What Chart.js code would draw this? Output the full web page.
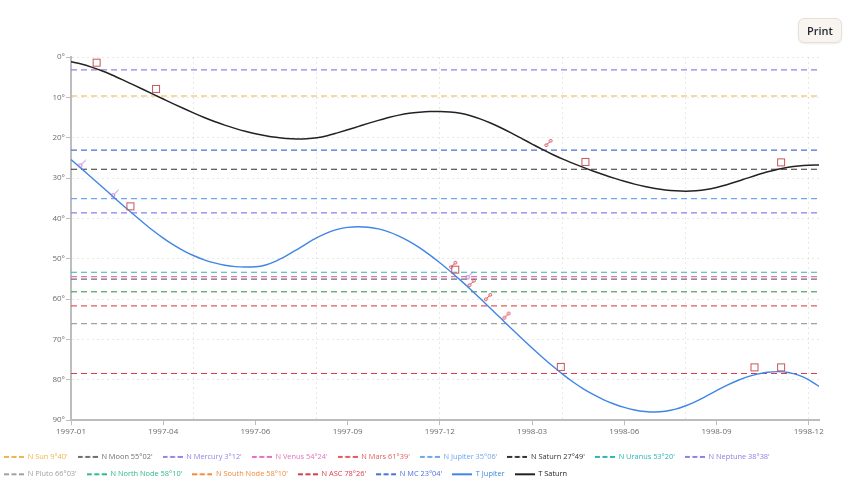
<!DOCTYPE html>
<html>
<head>
<meta charset="utf-8">
<script src="https://cdn.jsdelivr.net/npm/chart.js@4.4.1/dist/chart.umd.min.js"></script>
<style>
html,body{margin:0;padding:0;background:#fff;}
#wrap{position:relative;width:849px;height:485px;overflow:hidden;}
#c{position:absolute;left:0;top:0;}
#print{position:absolute;left:798px;top:18px;width:44px;height:25px;font:600 11px 'Open Sans','Noto Sans',sans-serif;color:#1f2430;background:#f8f5f0;border:1px solid #e6e0d6;border-radius:6px;box-shadow:0 1px 2px rgba(0,0,0,.08);padding:0;cursor:pointer;}
</style>
</head>
<body>
<div id="wrap"><canvas id="c" width="849" height="485"></canvas><button id="print">Print</button></div>
<script>
// ---- x: days since 1997-01-01 (10-day samples) ----
const days = [0,10,20,30,40,50,60,70,80,90,100,110,120,130,140,150,160,170,180,190,200,210,220,230,240,250,260,270,280,290,300,310,320,330,340,350,360,370,380,390,400,410,420,430,440,450,460,470,480,490,500,510,520,530,540,550,560,570,580,590,600,610,620,630,640,650,660,670,680,690,700,710,720,730];
const xTickLabels = ['1997-01','1997-04','1997-06','1997-09','1997-12','1998-03','1998-06','1998-09','1998-12'];
const xLabelEvery = 90;   // days between labelled ticks
const xGridEvery = 120;   // days between vertical grid lines
const xMinorEvery = 30;

// ---- transit series (degrees on the 90° dial) ----
const transitJupiter = [25.4,27.6,29.85,32.1,34.35,36.6,38.8,40.95,43.0,44.88,46.56,48.02,49.25,50.25,51.03,51.59,51.94,52.05,51.98,51.53,50.58,49.28,47.78,46.23,44.78,43.58,42.73,42.23,42.05,42.17,42.59,43.34,44.39,45.69,47.24,49.04,50.99,53.09,55.29,57.59,59.99,62.44,64.89,67.34,69.74,72.09,74.39,76.59,78.64,80.54,82.24,83.69,84.94,85.99,86.84,87.46,87.84,87.97,87.77,87.27,86.42,85.32,84.02,82.67,81.37,80.22,79.27,78.57,78.12,77.97,78.17,78.85,80.0,81.6];
const transitSaturn = [1.2,1.75,2.5,3.4,4.45,5.6,6.8,8.0,9.2,10.4,11.6,12.77,13.9,14.98,15.98,16.88,17.68,18.4,19.0,19.5,19.9,20.18,20.3,20.25,20.0,19.5,18.8,18.05,17.25,16.45,15.7,15.0,14.4,13.95,13.68,13.52,13.5,13.62,13.95,14.55,15.4,16.42,17.6,18.88,20.22,21.57,22.9,24.15,25.3,26.35,27.35,28.3,29.18,30.02,30.8,31.5,32.1,32.58,32.94,33.16,33.24,33.14,32.84,32.32,31.64,30.86,30.02,29.2,28.44,27.8,27.32,27.0,26.82,26.76];

// ---- natal points ----
const natalNames = ['Sun','Moon','Mercury','Venus','Mars','Jupiter','Saturn','Uranus','Neptune','Pluto','North Node','South Node','ASC','MC'];
const natalDeg   = [9,55,3,54,61,35,27,53,38,66,58,58,78,23];
const natalMin   = [40,2,12,24,39,6,49,20,38,3,10,10,26,4];
const natalColors = ['#f0b44e','#6e6e6e','#9583e6','#e472bb','#e35d5d','#6fa6ee','#333333','#2db6b6','#8b80e6','#a0a0a0','#2fb98b','#f08a3a','#d93b4b','#4b70d9'];

// ---- aspect markers ----
const squareDays = [25,83,58,375,502,478,693,667,693];
const squareVals = [1.4,7.9,37.0,52.7,26.0,76.8,26.1,76.9,76.9];
const oppDays = [466,373,391,407,425];
const oppVals = [21.3,51.5,56.0,59.5,64.1];
const conjDays = [11,43,389];
const conjVals = [26.4,33.8,54.1];

function glyph(kind, color) {
  const c = document.createElement('canvas');
  c.width = 10; c.height = 10;
  const g = c.getContext('2d');
  g.strokeStyle = color; g.lineWidth = 1;
  if (kind === 'square') {
    g.strokeRect(1.5, 1.5, 7, 7);
  } else if (kind === 'opp') {
    g.beginPath(); g.arc(2.8, 7.2, 1.4, 0, Math.PI * 2); g.stroke();
    g.beginPath(); g.arc(7.2, 2.8, 1.4, 0, Math.PI * 2); g.stroke();
    g.beginPath(); g.moveTo(3.9, 6.1); g.lineTo(6.1, 3.9); g.stroke();
  } else {
    g.beginPath(); g.arc(3, 7, 1.8, 0, Math.PI * 2); g.stroke();
    g.beginPath(); g.moveTo(4.4, 5.6); g.lineTo(8.6, 1.4); g.stroke();
  }
  return c;
}
function legendIcon(color, dashed) {
  const c = document.createElement('canvas');
  c.width = 20; c.height = 4;
  const g = c.getContext('2d');
  g.strokeStyle = color; g.lineWidth = 2;
  if (dashed) g.setLineDash([5, 2.5]);
  g.beginPath(); g.moveTo(0, 2); g.lineTo(20, 2); g.stroke();
  return c;
}

const pts = (xs, ys) => xs.map((x, i) => ({x: x, y: ys[i]}));
const fmt = (d, m) => d + '°' + String(m).padStart(2, '0') + "'";
const xMin = days[0], xMax = days[days.length - 1];

const datasets = [];
natalNames.forEach((n, i) => {
  const v = natalDeg[i] + natalMin[i] / 60;
  datasets.push({
    label: 'N ' + n + ' ' + fmt(natalDeg[i], natalMin[i]),
    data: [{x: xMin, y: v}, {x: xMax, y: v}],
    borderColor: natalColors[i],
    backgroundColor: natalColors[i],
    borderWidth: 1.2,
    borderDash: [6, 4],
    pointRadius: 0,
    order: 3
  });
});
datasets.push({label: 'T Jupiter', data: pts(days, transitJupiter), borderColor: '#3f86e6', backgroundColor: '#3f86e6', borderWidth: 1.4, pointRadius: 0, cubicInterpolationMode: 'monotone', order: 2});
datasets.push({label: 'T Saturn', data: pts(days, transitSaturn), borderColor: '#222222', backgroundColor: '#222222', borderWidth: 1.5, pointRadius: 0, cubicInterpolationMode: 'monotone', order: 2});
const legendCount = datasets.length;
datasets.push({label: 'square', data: pts(squareDays, squareVals), showLine: false, pointStyle: glyph('square', '#c4555b'), pointRadius: 5, order: 1});
datasets.push({label: 'opposition', data: pts(oppDays, oppVals), showLine: false, pointStyle: glyph('opp', '#d9475a'), pointRadius: 5, order: 1});
datasets.push({label: 'conjunction', data: pts(conjDays, conjVals), showLine: false, pointStyle: glyph('conj', '#b57ad8'), pointRadius: 5, order: 1});

const gridColor = 'rgba(0,0,0,0.09)';
const axisColor = '#bdbdbd';
const tickFont = {family: "'Open Sans', 'Noto Sans', sans-serif", size: 8};

new Chart(document.getElementById('c'), {
  type: 'line',
  data: {datasets},
  options: {
    responsive: false,
    animation: false,
    layout: {padding: {left: -6, right: 30, top: 57, bottom: -3}},
    plugins: {
      tooltip: {enabled: false},
      legend: {
        position: 'bottom',
        align: 'start',
        labels: {
          usePointStyle: true,
          pointStyleWidth: 20,
          padding: 10,
          font: {family: "'Open Sans', 'Noto Sans', sans-serif", size: 7.4},
          filter: (item) => item.datasetIndex < legendCount,
          sort: (a, b) => a.datasetIndex - b.datasetIndex,
          generateLabels: (chart) => {
            const items = Chart.defaults.plugins.legend.labels.generateLabels(chart);
            items.forEach(it => {
              const ds = chart.data.datasets[it.datasetIndex];
              it.fontColor = ds.borderColor;
              it.pointStyle = legendIcon(ds.borderColor, !!ds.borderDash);
            });
            return items;
          }
        }
      }
    },
    scales: {
      x: {
        type: 'linear',
        min: xMin,
        max: xMax,
        afterFit: (s) => { s.height = 23; },
        afterBuildTicks: (s) => {
          const t = [];
          for (let v = xMin; v <= (xTickLabels.length - 1) * xLabelEvery; v += xMinorEvery) t.push({value: v});
          s.ticks = t;
        },
        ticks: {
          autoSkip: false,
          maxRotation: 0,
          padding: 2,
          color: '#6b6b6b',
          font: tickFont,
          callback: (v) => (v % xLabelEvery === 0 ? xTickLabels[v / xLabelEvery] : '')
        },
        grid: {
          color: (ctx) => (ctx.tick && ctx.tick.value > 0 && ctx.tick.value % xGridEvery === 0 ? gridColor : 'transparent'),
          tickColor: (ctx) => (ctx.tick && ctx.tick.value % xLabelEvery === 0 ? axisColor : 'transparent'),
          tickLength: 5,
          lineWidth: 1
        },
        border: {color: axisColor, width: 2, dash: [2, 3]}
      },
      y: {
        type: 'linear',
        reverse: true,
        min: 0,
        max: 90,
        afterFit: (s) => { s.width = 77; },
        ticks: {
          stepSize: 10,
          padding: 1,
          color: '#6b6b6b',
          font: tickFont,
          callback: (v) => v + '°'
        },
        grid: {
          color: (ctx) => (ctx.tick && ctx.tick.value < 90 ? gridColor : 'transparent'),
          tickColor: axisColor,
          tickLength: 5,
          lineWidth: 1
        },
        border: {color: axisColor, width: 2, dash: [2, 3]}
      }
    }
  }
});
</script>
</body>
</html>
